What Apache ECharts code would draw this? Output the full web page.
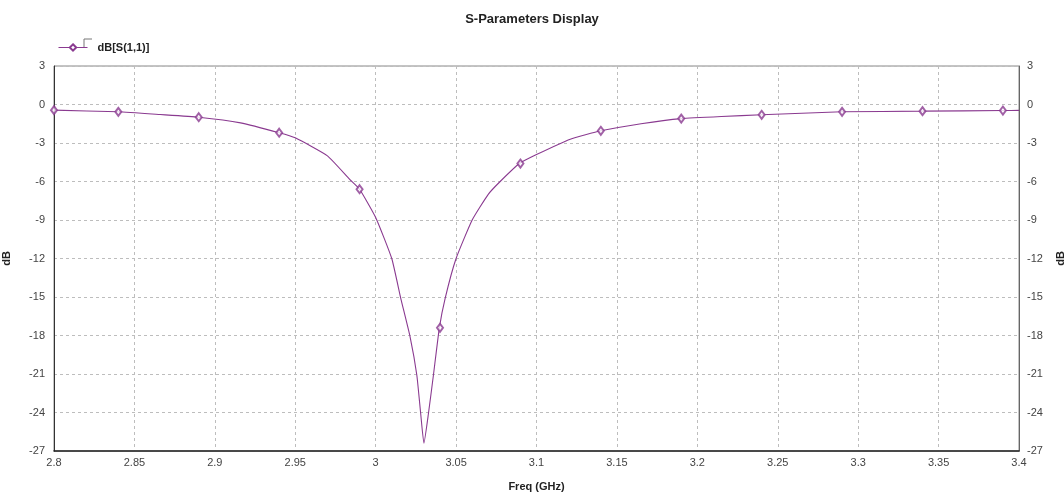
<!DOCTYPE html>
<html>
<head>
<meta charset="utf-8">
<script src="https://cdn.jsdelivr.net/npm/echarts@6/dist/echarts.min.js"></script>
<style>
  html, body { margin: 0; padding: 0; background: #fff; }
  #chart { width: 1064px; height: 496px; }
</style>
</head>
<body>
<div id="chart"></div>
<script>
// S(1,1) curve (GHz, dB)
const freq = [2.80, 2.84, 2.866, 2.89, 2.916, 2.94, 2.95, 2.97, 2.984, 2.99, 3.00, 3.01, 3.0156, 3.0214, 3.0256, 3.028, 3.030,
  3.0328, 3.0359, 3.0396, 3.0432, 3.05, 3.06, 3.07, 3.0774, 3.0894, 3.10, 3.121, 3.14, 3.165, 3.19, 3.215, 3.24, 3.29, 3.34, 3.39, 3.40];
const s11 = [-0.44, -0.57, -0.78, -0.99, -1.43, -2.2, -2.6, -4.0, -5.85, -6.6, -8.8, -12.0, -15.1, -18.1, -21.1, -24.1, -26.4,
  -24.1, -21.1, -17.4, -15.1, -12.0, -9.0, -7.0, -6.0, -4.6, -3.9, -2.7, -2.05, -1.5, -1.1, -0.93, -0.8, -0.57, -0.52, -0.47, -0.46];

// marker positions along the trace
const markFreq = [2.80, 2.84, 2.89, 2.94, 2.99, 3.04, 3.09, 3.14, 3.19, 3.24, 3.29, 3.34, 3.39];
const markDb = [-0.44, -0.57, -0.99, -2.2, -6.6, -17.4, -4.6, -2.05, -1.1, -0.8, -0.57, -0.52, -0.47];

const xTicks = ['2.8', '2.85', '2.9', '2.95', '3', '3.05', '3.1', '3.15', '3.2', '3.25', '3.3', '3.35', '3.4'];
const yTicks = ['3', '0', '-3', '-6', '-9', '-12', '-15', '-18', '-21', '-24', '-27'];

const font = "'Liberation Sans Narrow', 'Liberation Sans', Arial, sans-serif";
const purple = '#8a3a90';

const chart = echarts.init(document.getElementById('chart'));

const yLabelFmt = (v) => {
  const i = Math.round((3 - v) / 3);
  return yTicks[i] !== undefined ? yTicks[i] : '';
};
const gridLine = { show: true, lineStyle: { color: '#bdbdbd', type: [3, 3], width: 1 } };

const option = {
  backgroundColor: '#fff',
  animation: false,
  title: {
    text: 'S-Parameters Display',
    left: 'center',
    top: 8,
    textStyle: { fontFamily: font, fontSize: 13, fontWeight: 'bold', color: '#222' }
  },
  legend: {
    left: 53,
    top: 37,
    itemWidth: 29,
    itemHeight: 8,
    data: ['dB[S(1,1)]'],
    lineStyle: { width: 1 },
    textStyle: { fontFamily: font, fontSize: 11, fontWeight: 'bold', color: '#222', padding: [0, 0, 0, 5] }
  },
  graphic: [{
    type: 'polyline',
    shape: { points: [[84, 48], [84, 39], [92, 39]] },
    style: { stroke: '#777', lineWidth: 1, fill: null }
  }],
  grid: {
    left: 54, right: 45, top: 66, bottom: 45,
    outerBoundsMode: 'none',
    show: true, borderColor: '#888', borderWidth: 1
  },
  xAxis: {
    type: 'value',
    min: 2.8,
    max: 3.4,
    interval: 0.05,
    name: 'Freq (GHz)',
    nameLocation: 'middle',
    nameGap: 30,
    nameTextStyle: { fontFamily: font, fontSize: 11, fontWeight: 'bold', color: '#222' },
    axisLine: { onZero: false, lineStyle: { color: '#222', width: 1.5 } },
    axisTick: { show: false },
    axisLabel: {
      fontFamily: font, fontSize: 11, color: '#444', margin: 6,
      formatter: (v) => xTicks[Math.round((v - 2.8) / 0.05)] || ''
    },
    splitLine: gridLine
  },
  yAxis: [{
    type: 'value',
    min: -27,
    max: 3,
    interval: 3,
    name: 'dB',
    nameLocation: 'middle',
    nameGap: 42,
    nameRotate: 90,
    nameTextStyle: { fontFamily: font, fontSize: 11, fontWeight: 'bold', color: '#222' },
    axisLine: { show: true, onZero: false, lineStyle: { color: '#333', width: 1 } },
    axisTick: { show: false },
    axisLabel: { fontFamily: font, fontSize: 11, color: '#444', margin: 9, formatter: yLabelFmt },
    splitLine: gridLine
  }, {
    type: 'value',
    position: 'right',
    min: -27,
    max: 3,
    interval: 3,
    name: 'dB',
    nameLocation: 'middle',
    nameGap: 36,
    nameRotate: 90,
    nameTextStyle: { fontFamily: font, fontSize: 11, fontWeight: 'bold', color: '#222' },
    axisLine: { show: true, onZero: false, lineStyle: { color: '#666', width: 1 } },
    axisTick: { show: false },
    axisLabel: { fontFamily: font, fontSize: 11, color: '#444', margin: 8, formatter: yLabelFmt },
    splitLine: { show: false }
  }],
  series: [{
    name: 'dB[S(1,1)]',
    type: 'line',
    data: freq.map((f, i) => [f, s11[i]]),
    symbol: 'emptyDiamond',
    symbolSize: [6, 8],
    showSymbol: false,
    smooth: 0.15,
    lineStyle: { color: purple, width: 1.1 },
    itemStyle: { color: purple, borderColor: purple }
  }, {
    name: 'markers',
    type: 'scatter',
    data: markFreq.map((f, i) => [f, markDb[i]]),
    symbol: 'emptyDiamond',
    symbolSize: [6, 8],
    itemStyle: { color: purple, borderColor: purple, borderWidth: 1 },
    z: 3
  }]
};

chart.setOption(option);
</script>
</body>
</html>
